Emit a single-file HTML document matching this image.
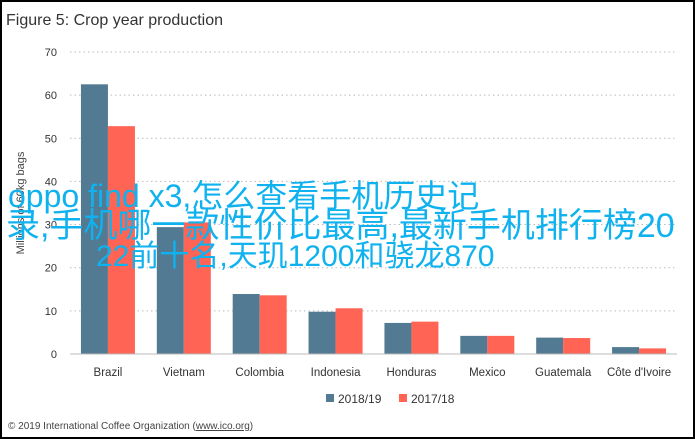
<!DOCTYPE html>
<html><head><meta charset="utf-8"><style>
html,body{margin:0;padding:0;background:#fff}
#wrap{position:relative;width:695px;height:439px;overflow:hidden;font-family:"Liberation Sans","Noto Sans CJK SC",sans-serif}
#frame{position:absolute;left:0;top:0;width:691px;height:435px;border:2px solid #000}
.ov{position:absolute;color:#0fb2ee;line-height:32px;white-space:nowrap;font-family:"Liberation Sans","Noto Sans CJK SC",sans-serif}
</style></head><body>
<div id="wrap">
<div id="frame"></div>
<svg id="svg" width="695" height="439" style="position:absolute;left:0;top:0">
<text x="6" y="25" font-size="16" fill="#333" font-family="Liberation Sans, sans-serif">Figure 5: Crop year production</text>
<text transform="translate(24,203) rotate(-90)" text-anchor="middle" font-size="11" fill="#444">Millions of 60kg bags</text>
<g id="grid"></g><g id="bars"></g><g id="xl"></g>
<line x1="70" y1="354" x2="677" y2="354" stroke="#bbb" stroke-width="1"/>
<rect x="326" y="394" width="8" height="8" fill="#527a92"/>
<text x="338" y="403" font-size="12" fill="#333">2018/19</text>
<rect x="399" y="394" width="8" height="8" fill="#ff6454"/>
<text x="411" y="403" font-size="12" fill="#333">2017/18</text>
<text x="8" y="429" font-size="10" fill="#444">© 2019 International Coffee Organization (<tspan text-decoration="underline">www.ico.org</tspan>)</text>
</svg>
<div class="ov" style="top:180px;left:8px;font-size:32px">oppo find x3,怎么查看手机历史记</div>
<div class="ov" style="top:210px;left:6px;font-size:34px">录,手机哪一款性价比最高,最新手机排行榜20</div>
<div class="ov" style="top:241px;left:96px;font-size:30px">22前十名,天玑1200和骁龙870</div>
</div>
<script>
const categories=["Brazil","Vietnam","Colombia","Indonesia","Honduras","Mexico","Guatemala","Côte d'Ivoire"];
const s2018=[62.5,29.4,13.9,9.8,7.2,4.2,3.8,1.6];
const s2017=[52.8,30.5,13.6,10.6,7.5,4.2,3.7,1.3];
const yTicks=[0,10,20,30,40,50,60,70];
const NS="http://www.w3.org/2000/svg";
const x0=70,x1=677,yBase=354,pxPer=4.315;
const gw=(x1-x0)/categories.length,bw=27;
function y(v){return yBase-v*pxPer;}
function gx(i){return x0+gw*i+gw/2;}
function mk(t,a,p){const e=document.createElementNS(NS,t);for(const k in a)e.setAttribute(k,a[k]);p.appendChild(e);return e;}
const grid=document.getElementById('grid'),bars=document.getElementById('bars'),xl=document.getElementById('xl');
yTicks.forEach(v=>{
 if(v>0){const l=mk('line',{x1:x0,x2:x1,y1:y(v),y2:y(v),stroke:'#bbb','stroke-dasharray':'1.5,3'},grid);
 
 }
 const t=mk('text',{x:57,y:y(v)+4,'text-anchor':'end','font-size':11,fill:'#333'},grid);t.textContent=v;
 
 
});
categories.forEach((c,i)=>{
 const cx=gx(i);
 const a=mk('rect',{x:cx-bw,y:y(s2018[i]),width:bw,height:s2018[i]*pxPer,fill:'#527a92'},bars);
 
 
 const b=mk('rect',{x:cx,y:y(s2017[i]),width:bw,height:s2017[i]*pxPer,fill:'#ff6454'},bars);
 
 
 const t=mk('text',{x:cx,y:376,'text-anchor':'middle','font-size':11.5,fill:'#333'},xl);t.textContent=c;
 
 
});
</script>
</body></html>
